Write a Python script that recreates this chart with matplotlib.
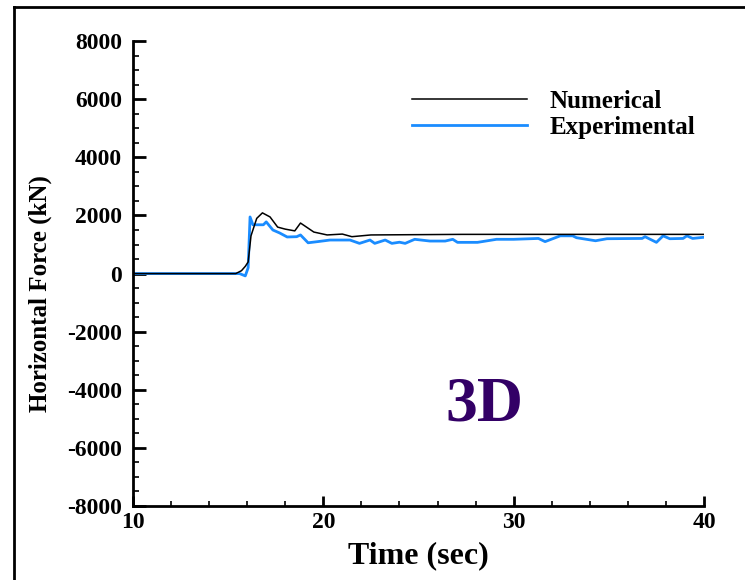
import matplotlib.pyplot as plt
from matplotlib.lines import Line2D
from matplotlib.ticker import MultipleLocator

# Dados
tempo_num = [10, 15.4, 15.7, 15.9, 16.05, 16.2, 16.5, 16.8, 17.2, 17.6, 18.0, 18.5,
             18.8, 19.5, 20.2, 21.0, 21.5, 22.0, 22.5, 27.3, 40]
forca_num = [0, 0, 100, 250, 400, 1300, 1900, 2090, 1950, 1600, 1530, 1470,
             1740, 1430, 1330, 1360, 1270, 1300, 1330, 1350, 1350]

tempo_exp = [10, 15.6, 15.9, 16.05, 16.15, 16.3, 16.85, 17.0, 17.35, 17.7,
             18.1, 18.6, 18.8, 19.2, 19.7, 20.35, 21.4, 21.9, 22.45, 22.7,
             23.25, 23.6, 24.0, 24.3, 24.8, 25.6, 26.4, 26.8, 27.05, 28.1,
             29.1, 30.0, 31.3, 31.65, 32.45, 33.1, 33.3, 34.3, 34.9, 36.75,
             36.9, 37.5, 37.85, 38.2, 38.9, 39.1, 39.4, 40]
forca_exp = [0, 0, -80, 200, 1950, 1680, 1680, 1780, 1500, 1400,
             1260, 1270, 1330, 1060, 1100, 1155, 1155, 1040, 1155, 1040,
             1155, 1040, 1080, 1040, 1180, 1120, 1120, 1180, 1075, 1075,
             1180, 1180, 1210, 1100, 1300, 1300, 1235, 1130, 1200, 1210,
             1270, 1075, 1300, 1200, 1210, 1300, 1210, 1250]

plt.rcParams['font.family'] = ['Liberation Serif', 'DejaVu Serif']
plt.rcParams['axes.unicode_minus'] = False

fig = plt.figure(figsize=(7.45, 5.8), dpi=100)
ax = fig.add_axes([0.1785, 0.1276, 0.7665, 0.8014])

ax.plot(tempo_num, forca_num, color='black', linewidth=1.1, label='Numerical', zorder=3)
ax.plot(tempo_exp, forca_exp, color='#1a8cff', linewidth=2.0, label='Experimental', zorder=2)

ax.set_xlim(10, 40)
ax.set_ylim(-8000, 8000)
ax.xaxis.set_major_locator(MultipleLocator(10))
ax.xaxis.set_minor_locator(MultipleLocator(2))
ax.yaxis.set_major_locator(MultipleLocator(2000))
ax.yaxis.set_minor_locator(MultipleLocator(500))

for lado in ['top', 'right']:
    ax.spines[lado].set_visible(False)
for lado in ['left', 'bottom']:
    ax.spines[lado].set_linewidth(2)

ax.tick_params(axis='y', which='major', direction='in', length=9, width=2, labelsize=17, pad=8)
ax.tick_params(axis='y', which='minor', direction='in', length=4.5, width=1.2)
ax.tick_params(axis='x', which='major', direction='in', length=7, width=2, labelsize=17, pad=4)
ax.tick_params(axis='x', which='minor', direction='in', length=3.5, width=1.2)
for rotulo in ax.get_xticklabels() + ax.get_yticklabels():
    rotulo.set_fontweight('bold')

ax.set_xlabel('Time (sec)', fontsize=23, fontweight='bold', labelpad=6)
ax.set_ylabel('Horizontal Force (kN)', fontsize=18, fontweight='bold')
ax.yaxis.set_label_coords(-0.142, 0.456)

ax.legend(loc='upper right', bbox_to_anchor=(0.985, 0.895), frameon=False,
          prop={'weight': 'bold', 'size': 18}, handlelength=4.6, handletextpad=0.9,
          labelspacing=0.12, borderpad=0, borderaxespad=0)

ax.text(28.45, -4530, '3D', fontsize=46, fontweight='bold', color='#330066',
        ha='center', va='center')

# Moldura da figura (topo e esquerda)
fig.add_artist(Line2D([14 / 745, 1], [1 - 6.5 / 580, 1 - 6.5 / 580], color='black', linewidth=2,
                      transform=fig.transFigure))
fig.add_artist(Line2D([14 / 745, 14 / 745], [0, 1 - 6.5 / 580], color='black', linewidth=2,
                      transform=fig.transFigure))

fig.savefig('out.png', dpi=100)
